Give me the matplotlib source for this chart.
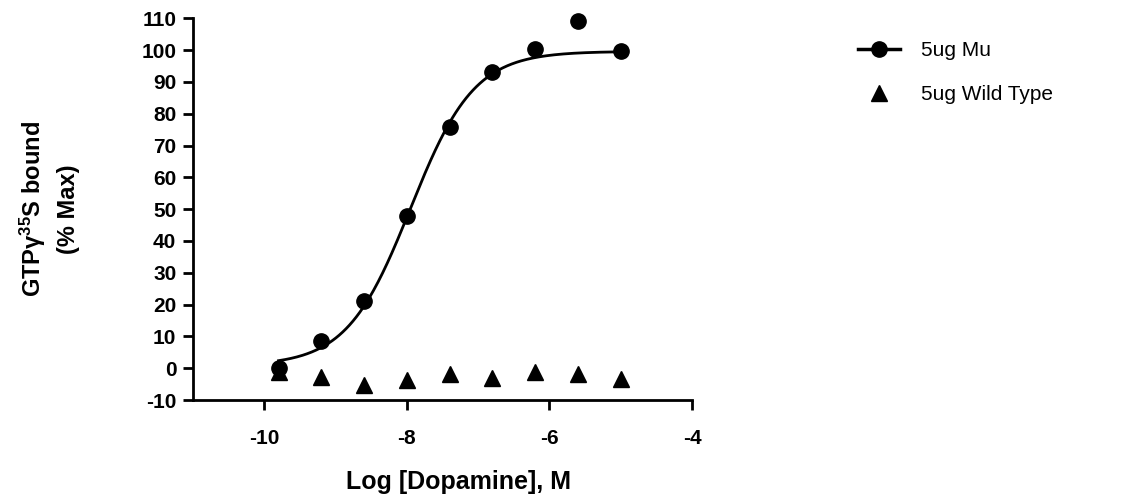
import numpy as np
import matplotlib
matplotlib.use("Agg")
import matplotlib.pyplot as plt
from matplotlib.lines import Line2D

plt.rcParams['font.family'] = ['Liberation Sans', 'DejaVu Sans']
plt.rcParams['mathtext.fontset'] = 'custom'
plt.rcParams['mathtext.rm'] = 'Liberation Sans:bold'
plt.rcParams['mathtext.it'] = 'Liberation Sans:bold'
plt.rcParams['mathtext.bf'] = 'Liberation Sans:bold'
plt.rcParams['axes.unicode_minus'] = False

# Data
log_dopamine = [-9.8, -9.2, -8.6, -8.0, -7.4, -6.8, -6.2, -5.6, -5.0]
mu_5ug = [0.0, 8.4, 21.0, 47.7, 75.8, 93.0, 100.4, 109.2, 99.7]
wild_type_5ug = [-1.2, -2.7, -5.4, -3.6, -1.7, -3.2, -1.2, -1.7, -3.4]
series_labels = ["5ug Mu", "5ug Wild Type"]
x_ticks = [-10, -8, -6, -4]
y_ticks = list(range(-10, 111, 10))

# Sigmoidal dose-response fit parameters (as in the fitted curve)
fit_bottom = 0.8
fit_top = 99.6
fit_logec50 = -7.95
fit_hill = 0.97

fig = plt.figure(figsize=(11.21, 4.94), dpi=100)
ax_h = 400 - 18.3
ax = fig.add_axes([193/1121, 94/494, (692-193)/1121, ax_h/494])

xc = np.linspace(min(log_dopamine), max(log_dopamine), 300)
yc = fit_bottom + (fit_top - fit_bottom) / (1 + 10 ** ((fit_logec50 - xc) * fit_hill))
ax.plot(xc, yc, color='black', lw=2.0, zorder=2)
ax.plot(log_dopamine, mu_5ug, 'o', color='black', ms=11, zorder=3, clip_on=False)
ax.plot(log_dopamine, wild_type_5ug, '^', color='black', ms=11, zorder=3, clip_on=False)

ax.set_xlim(-11, -4)
ax.set_ylim(-10, 110)
ax.set_xticks(x_ticks)
ax.set_yticks(y_ticks)
for s in ['top', 'right']:
    ax.spines[s].set_visible(False)
for s in ['left', 'bottom']:
    ax.spines[s].set_linewidth(2.0)
ax.tick_params(axis='both', width=2.0, length=7, direction='out', labelsize=15, pad=5)
ax.tick_params(axis='x', pad=14)
for lab in ax.get_xticklabels() + ax.get_yticklabels():
    lab.set_fontweight('bold')

ax.set_xlabel("Log [Dopamine], M", fontsize=18, fontweight='bold')
ax.xaxis.set_label_coords((459-193)/499, (400-470)/ax_h)
ax.set_ylabel("GTPγ$^{35}$S bound\n(% Max)", fontsize=17, fontweight='bold',
              linespacing=1.5)
ax.yaxis.set_label_coords((80-193)/499, 0.5)

handles = [
    Line2D([], [], color='black', lw=2.5, marker='o', ms=11),
    Line2D([], [], color='black', lw=0, marker='^', ms=11),
]
fig.legend(handles, series_labels, loc='upper left', bbox_to_anchor=(850/1121, 1 - 33/494),
           frameon=False, fontsize=15, handlelength=2.0, handletextpad=1.0, labelspacing=1.2,
           borderaxespad=0)

fig.savefig("out.png", dpi=100)
